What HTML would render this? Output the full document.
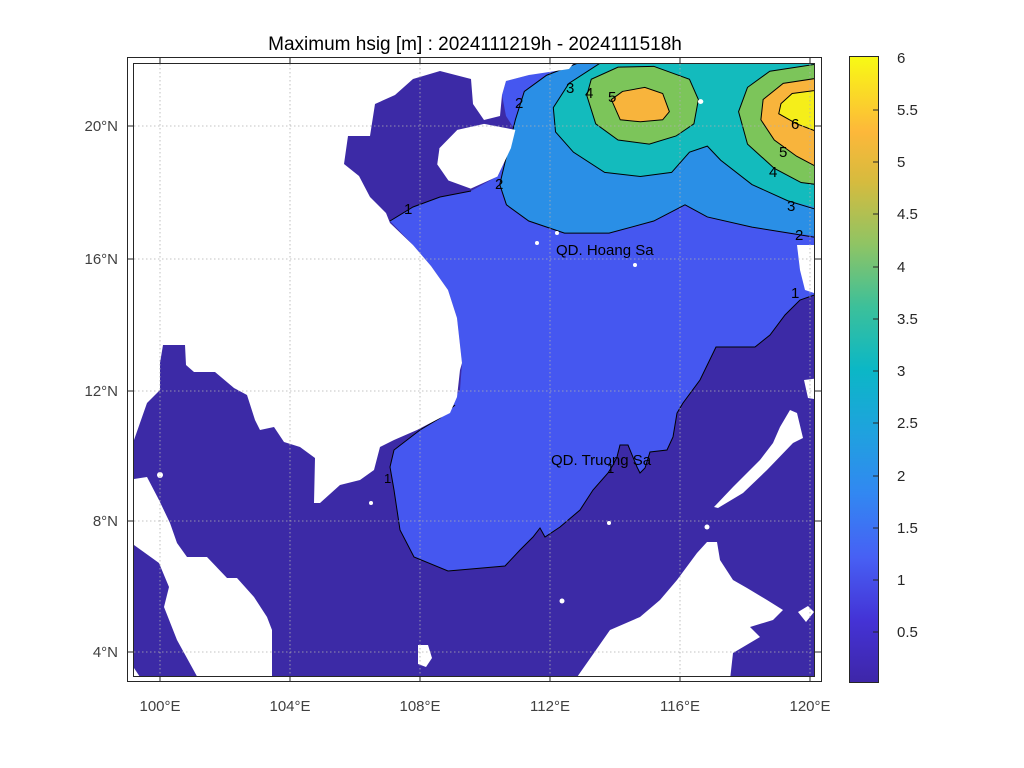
<!DOCTYPE html>
<html><head><meta charset="utf-8"><style>
body{margin:0;background:#fff;}
svg{display:block;font-family:"Liberation Sans",sans-serif;}
</style></head><body>
<svg width="1024" height="768" viewBox="0 0 1024 768" xmlns="http://www.w3.org/2000/svg">
<defs>
<linearGradient id="pg" x1="0" y1="1" x2="0" y2="0">
<stop offset="0" stop-color="#3e26a8"/>
<stop offset="0.1" stop-color="#4433d6"/>
<stop offset="0.2" stop-color="#4760f4"/>
<stop offset="0.3" stop-color="#3287f2"/>
<stop offset="0.4" stop-color="#1fa2de"/>
<stop offset="0.5" stop-color="#0bb7c6"/>
<stop offset="0.6" stop-color="#3cc09a"/>
<stop offset="0.7" stop-color="#8fc464"/>
<stop offset="0.8" stop-color="#d6bb3e"/>
<stop offset="0.88" stop-color="#fdb83a"/>
<stop offset="1" stop-color="#f8fa14"/>
</linearGradient>
<clipPath id="cp"><rect x="134" y="64" width="680" height="612"/></clipPath>
</defs>
<text x="475" y="50" font-size="19" text-anchor="middle" fill="#000">Maximum hsig [m] : 2024111219h - 2024111518h</text>
<g clip-path="url(#cp)">
<rect x="120" y="50" width="710" height="640" fill="#3c2aa6"/>
<polygon fill="#4557f0" points="390,221 413,207 440,197 471,191 498,176 511,148 515,130 506,116 502,95 506,81 529,75 573,63 823,63 823,292 800,300 785,315 770,335 755,347 716,347 700,380 683,403 677,413 673,437 667,450 650,452 645,468 640,473 637,467 628,445 620,445 617,457 613,465 608,473 593,490 580,510 560,527 545,537 540,528 533,537 520,550 505,566 448,571 414,557 400,530 394,490 390,467 394,450 420,430 440,418 460,390 462,363 457,318 448,290 431,266 413,245"/>
<g transform="translate(127,55) scale(0.4464,0.4049)">
<polygon fill="#2a8fe6" points="1010,20 940,50 890,90 870,160 850,250 835,320 850,370 900,410 980,440 1080,440 1180,410 1250,370 1300,400 1400,425 1560,450 1560,20"/>
<polygon fill="#13bbbd" points="1060,20 990,70 955,130 960,190 1000,240 1070,290 1150,300 1220,290 1260,240 1300,225 1330,260 1400,320 1480,360 1560,380 1560,20"/>
<polygon fill="#7cc55a" points="1030,100 1040,60 1100,30 1180,28 1260,60 1280,110 1270,170 1230,200 1170,220 1100,210 1050,170"/>
<polygon fill="#7cc55a" points="1560,20 1440,40 1390,80 1370,140 1390,220 1450,280 1510,315 1560,322"/>
<polygon fill="#f8b43c" points="1085,110 1110,90 1160,80 1200,95 1215,140 1200,160 1150,165 1105,160"/>
<polygon fill="#f8b43c" points="1560,55 1470,70 1425,110 1420,160 1450,210 1500,250 1560,285"/>
<polygon fill="#f5ee1a" points="1560,85 1490,95 1465,120 1460,145 1500,170 1560,195"/>
<g fill="none" stroke="#000" stroke-width="1">
<polyline vector-effect="non-scaling-stroke" points="1010,20 940,50 890,90 870,160 850,250 835,320 850,370 900,410 980,440 1080,440 1180,410 1250,370 1300,400 1400,425 1540,450"/>
<polyline vector-effect="non-scaling-stroke" points="1060,20 990,70 955,130 960,190 1000,240 1070,290 1150,300 1220,290 1260,240 1300,225 1330,260 1400,320 1480,360 1540,380"/>
<polygon vector-effect="non-scaling-stroke" points="1030,100 1040,60 1100,30 1180,28 1260,60 1280,110 1270,170 1230,200 1170,220 1100,210 1050,170"/>
<polyline vector-effect="non-scaling-stroke" points="1560,20 1440,40 1390,80 1370,140 1390,220 1450,280 1510,315 1560,322"/>
<polygon vector-effect="non-scaling-stroke" points="1085,110 1110,90 1160,80 1200,95 1215,140 1200,160 1150,165 1105,160"/>
<polyline vector-effect="non-scaling-stroke" points="1560,55 1470,70 1425,110 1420,160 1450,210 1500,250 1560,285"/>
<polyline vector-effect="non-scaling-stroke" points="1560,85 1490,95 1465,120 1460,145 1500,170 1560,195"/>
</g>
<polygon fill="#fff" points="700,230 740,185 800,170 870,185 860,230 830,300 770,330 720,310 695,270"/>
<circle fill="#fff" cx="1285" cy="115" r="6"/>
</g>
<g fill="none" stroke="#000" stroke-width="1">
<polyline points="390,221 413,207 440,197 471,191"/>
<polyline points="823,292 800,300 785,315 770,335 755,347 716,347 700,380 683,403 677,413 673,437 667,450 650,452 645,468 640,473 637,467 628,445 620,445 617,457 613,465 608,473 593,490 580,510 560,527 545,537 540,528 533,537 520,550 505,566 448,571 414,557 400,530 394,490 390,467 394,450 420,430 440,418 455,405"/>
</g>
<g fill="#fff">
<polygon points="127,55 578,55 573,64 569,69 529,75 506,81 502,95 500,116 484,120 473,104 471,79 440,71 413,79 395,95 375,104 370,136 348,136 344,164 359,176 370,197 386,213 390,223 413,245 431,266 448,290 457,318 462,363 460,370 457,397 450,413 440,418 417,430 394,440 380,447 374,470 360,480 340,485 320,503 314,503 315,458 300,447 284,442 274,427 260,430 255,420 247,395 234,388 215,372 194,372 186,365 185,345 163,345 160,363 160,390 147,403 134,440 127,440"/>
<polygon points="127,480 147,477 159,500 170,523 177,543 187,557 207,557 227,578 237,578 254,597 267,617 272,630 272,680 199,680 177,640 164,607 169,587 159,563 127,540"/>
<polygon points="127,668 134,668 142,680 127,680"/>
<polygon points="575,680 610,630 640,617 660,600 677,580 697,553 707,542 717,542 720,560 733,580 747,588 767,600 783,610 773,620 750,627 760,637 733,653 730,680"/>
<polygon points="714,507 733,487 760,460 773,443 780,427 790,410 797,413 803,438 793,443 767,470 743,493 718,508"/>
<polygon points="797,245 820,245 820,295 805,290 800,270"/>
<polygon points="804,380 820,378 820,400 808,398"/>
<polygon points="798,612 808,606 814,612 806,622"/>
<polygon points="418,645 428,645 432,658 426,667 418,664"/>
<circle cx="557" cy="233" r="2"/><circle cx="537" cy="243" r="2"/><circle cx="635" cy="265" r="2"/>
<circle cx="609" cy="523" r="2"/><circle cx="371" cy="503" r="2"/><circle cx="562" cy="601" r="2.5"/>
<circle cx="707" cy="527" r="2.5"/><circle cx="257" cy="403" r="2.5"/><circle cx="160" cy="475" r="3"/>
</g>
</g>
<g stroke="#b0b0b0" stroke-width="0.8" stroke-dasharray="1.5,2.5" fill="none">
<line x1="160" y1="64" x2="160" y2="676"/><line x1="290" y1="64" x2="290" y2="676"/>
<line x1="420" y1="64" x2="420" y2="676"/><line x1="550" y1="64" x2="550" y2="676"/>
<line x1="680" y1="64" x2="680" y2="676"/><line x1="810" y1="64" x2="810" y2="676"/>
<line x1="134" y1="126" x2="814" y2="126"/><line x1="134" y1="259" x2="814" y2="259"/>
<line x1="134" y1="391" x2="814" y2="391"/><line x1="134" y1="521" x2="814" y2="521"/>
<line x1="134" y1="652" x2="814" y2="652"/>
</g>
<g font-size="15" fill="#000">
<text x="556" y="255">QD. Hoang Sa</text>
<text x="551" y="465">QD. Truong Sa</text>
<text x="515" y="108">2</text><text x="566" y="93">3</text><text x="585" y="98">4</text>
<text x="608" y="102">5</text><text x="495" y="189">2</text><text x="404" y="214">1</text>
<text x="791" y="129">6</text><text x="779" y="157">5</text><text x="769" y="177">4</text>
<text x="787" y="211">3</text><text x="795" y="240">2</text><text x="791" y="298">1</text>
<text x="384" y="483" font-size="13">1</text><text x="607" y="473" font-size="13">1</text>
</g>
<g fill="none" stroke="#262626" stroke-width="1">
<rect x="127.5" y="57.5" width="694" height="624"/>
<rect x="133.5" y="63.5" width="681" height="613"/>
</g>
<g stroke="#262626" stroke-width="1">
<line x1="160" y1="57" x2="160" y2="64"/><line x1="290" y1="57" x2="290" y2="64"/><line x1="420" y1="57" x2="420" y2="64"/><line x1="550" y1="57" x2="550" y2="64"/><line x1="680" y1="57" x2="680" y2="64"/><line x1="810" y1="57" x2="810" y2="64"/>
<line x1="160" y1="676" x2="160" y2="682"/><line x1="290" y1="676" x2="290" y2="682"/><line x1="420" y1="676" x2="420" y2="682"/><line x1="550" y1="676" x2="550" y2="682"/><line x1="680" y1="676" x2="680" y2="682"/><line x1="810" y1="676" x2="810" y2="682"/>
<line x1="127" y1="126" x2="134" y2="126"/><line x1="127" y1="259" x2="134" y2="259"/><line x1="127" y1="391" x2="134" y2="391"/><line x1="127" y1="521" x2="134" y2="521"/><line x1="127" y1="652" x2="134" y2="652"/>
<line x1="814" y1="126" x2="821" y2="126"/><line x1="814" y1="259" x2="821" y2="259"/><line x1="814" y1="391" x2="821" y2="391"/><line x1="814" y1="521" x2="821" y2="521"/><line x1="814" y1="652" x2="821" y2="652"/>
</g>
<g font-size="15" fill="#404040">
<text x="118" y="131" text-anchor="end">20°N</text>
<text x="118" y="264" text-anchor="end">16°N</text>
<text x="118" y="396" text-anchor="end">12°N</text>
<text x="118" y="526" text-anchor="end">8°N</text>
<text x="118" y="657" text-anchor="end">4°N</text>
<g text-anchor="middle">
<text x="160" y="711">100°E</text><text x="290" y="711">104°E</text><text x="420" y="711">108°E</text>
<text x="550" y="711">112°E</text><text x="680" y="711">116°E</text><text x="810" y="711">120°E</text>
</g>
</g>
<rect x="849.5" y="56.5" width="29" height="626" fill="url(#pg)" stroke="#262626" stroke-width="1"/>
<g stroke="#262626" stroke-width="1">
<line x1="873" y1="110" x2="878" y2="110"/><line x1="873" y1="162" x2="878" y2="162"/><line x1="873" y1="214" x2="878" y2="214"/><line x1="873" y1="267" x2="878" y2="267"/><line x1="873" y1="319" x2="878" y2="319"/><line x1="873" y1="371" x2="878" y2="371"/><line x1="873" y1="423" x2="878" y2="423"/><line x1="873" y1="476" x2="878" y2="476"/><line x1="873" y1="528" x2="878" y2="528"/><line x1="873" y1="580" x2="878" y2="580"/><line x1="873" y1="632" x2="878" y2="632"/>
</g>
<g font-size="15" fill="#262626">
<text x="897" y="63">6</text><text x="897" y="115">5.5</text><text x="897" y="167">5</text><text x="897" y="219">4.5</text><text x="897" y="272">4</text><text x="897" y="324">3.5</text><text x="897" y="376">3</text><text x="897" y="428">2.5</text><text x="897" y="481">2</text><text x="897" y="533">1.5</text><text x="897" y="585">1</text><text x="897" y="637">0.5</text>
</g>
</svg>
</body></html>
